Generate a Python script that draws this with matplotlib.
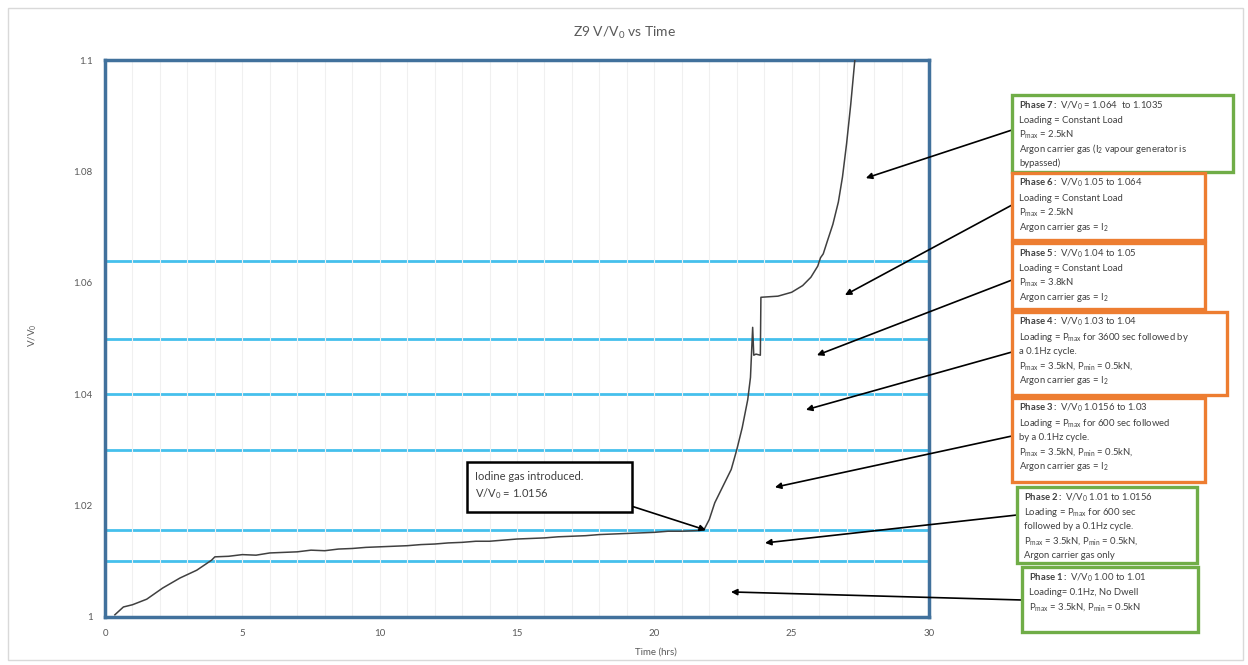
import matplotlib.pyplot as plt
from matplotlib.patches import Rectangle

plt.rcParams['font.family'] = ['Lato', 'DejaVu Sans']
plt.rcParams['mathtext.fontset'] = 'custom'
plt.rcParams['mathtext.rm'] = 'Lato'
plt.rcParams['mathtext.it'] = 'Lato:italic'
plt.rcParams['mathtext.bf'] = 'Lato:bold'
plt.rcParams['mathtext.default'] = 'regular'

# V/V0 against time (hrs)
time_hrs = [0.36, 0.67, 1.0, 1.52, 2.1, 2.73, 3.34, 3.88, 4.0,
            4.5, 5.0, 5.5, 6.0, 6.5, 7.0, 7.5, 8.0, 8.5, 9.0, 9.5, 10.0,
            10.5, 11.0, 11.5, 12.0, 12.5, 13.0, 13.5, 14.0, 14.5, 15.0,
            15.5, 16.0, 16.5, 17.0, 17.5, 18.0, 18.5, 19.0, 19.5, 20.0,
            20.5, 21.0, 21.5, 21.8,
            22.0, 22.2, 22.5, 22.8, 23.0, 23.2, 23.4, 23.5, 23.58, 23.62,
            23.7, 23.86, 23.88, 24.5, 25.0, 25.4, 25.7, 25.95, 26.05, 26.15,
            26.3, 26.5, 26.7, 26.85, 27.0, 27.15, 27.3, 27.36]
vv0 = [1.0004, 1.0018, 1.0022, 1.0032, 1.0052, 1.0070, 1.0084, 1.0102, 1.0108,
       1.0109, 1.0112, 1.0111, 1.0115, 1.0116, 1.0117, 1.0120, 1.0119, 1.0122,
       1.0123, 1.0125, 1.0126, 1.0127, 1.0128, 1.0130, 1.0131, 1.0133, 1.0134,
       1.0136, 1.0136, 1.0138, 1.0140, 1.0141, 1.0142, 1.0144, 1.0145, 1.0146,
       1.0148, 1.0149, 1.0150, 1.0151, 1.0152, 1.0154, 1.0154, 1.0155, 1.0156,
       1.0175, 1.0205, 1.0235, 1.0265, 1.0300, 1.0340, 1.0390, 1.0430, 1.0520,
       1.0470, 1.0472, 1.0470, 1.0574, 1.0576, 1.0583, 1.0595, 1.0610, 1.0630,
       1.0645, 1.0652, 1.0675, 1.0705, 1.0745, 1.0790, 1.0850, 1.0920, 1.1000,
       1.1030]

phase_limits = [1.01, 1.0156, 1.03, 1.04, 1.05, 1.064]

phase_notes = [
    [r"$\mathbf{Phase\ 7{:}}$ V/V$_0$ = 1.064  to 1.1035",
     "Loading = Constant Load",
     r"P$_{max}$ = 2.5kN",
     r"Argon carrier gas (I$_2$ vapour generator is",
     "bypassed)"],
    [r"$\mathbf{Phase\ 6{:}}$ V/V$_0$ 1.05 to 1.064",
     "Loading = Constant Load",
     r"P$_{max}$ = 2.5kN",
     r"Argon carrier gas = I$_2$"],
    [r"$\mathbf{Phase\ 5{:}}$ V/V$_0$ 1.04 to 1.05",
     "Loading = Constant Load",
     r"P$_{max}$ = 3.8kN",
     r"Argon carrier gas = I$_2$"],
    [r"$\mathbf{Phase\ 4{:}}$ V/V$_0$ 1.03 to 1.04",
     r"Loading = P$_{max}$ for 3600 sec followed by",
     "a 0.1Hz cycle.",
     r"P$_{max}$ = 3.5kN, P$_{min}$ = 0.5kN,",
     r"Argon carrier gas = I$_2$"],
    [r"$\mathbf{Phase\ 3{:}}$ V/V$_0$ 1.0156 to 1.03",
     r"Loading = P$_{max}$ for 600 sec followed",
     "by a 0.1Hz cycle.",
     r"P$_{max}$ = 3.5kN, P$_{min}$ = 0.5kN,",
     r"Argon carrier gas = I$_2$"],
    [r"$\mathbf{Phase\ 2{:}}$ V/V$_0$ 1.01 to 1.0156",
     r"Loading = P$_{max}$ for 600 sec",
     "followed by a 0.1Hz cycle.",
     r"P$_{max}$ = 3.5kN, P$_{min}$ = 0.5kN,",
     "Argon carrier gas only"],
    [r"$\mathbf{Phase\ 1{:}}$ V/V$_0$ 1.00 to 1.01",
     "Loading= 0.1Hz, No Dwell",
     r"P$_{max}$ = 3.5kN, P$_{min}$ = 0.5kN"],
]
# box corners in pixels from the top-left: x0, y0, x1, y1
note_boxes = [(1012, 95, 1233, 172), (1012, 173, 1205, 240),
              (1012, 243, 1205, 309), (1012, 312, 1227, 395),
              (1012, 398, 1205, 482), (1017, 487, 1197, 563),
              (1022, 567, 1198, 632)]
note_colors = ['#70AD47', '#ED7D31', '#ED7D31', '#ED7D31', '#ED7D31',
               '#70AD47', '#70AD47']
# arrow tail (pixels) and arrow tip (data)
arrow_tails = [(1012, 130), (1012, 205), (1012, 280), (1012, 352),
               (1012, 436), (1017, 515), (1022, 600)]
arrow_tips = [(27.7, 1.0788), (26.94, 1.0578), (25.92, 1.047),
              (25.52, 1.0372), (24.39, 1.0233), (24.03, 1.0133),
              (22.79, 1.0045)]

W, H = 1248, 665
fig = plt.figure(figsize=(W / 100, H / 100), dpi=100)
ax = fig.add_axes([105 / W, 48 / H, 824 / W, 557 / H])

def fx(px):
    return px / W

def fy(py):
    return 1 - py / H

# outer chart frame
fig.patches.append(Rectangle((fx(8), fy(660)), fx(1235), 652 / H,
                             transform=fig.transFigure, fill=False,
                             edgecolor='#D9D9D9', linewidth=1))

for lim in phase_limits:
    ax.axhline(lim, color='#45C0EC', linewidth=2, zorder=1)

ax.plot(time_hrs, vv0, color='#404040', linewidth=1.1, zorder=3)

ax.set_xlim(0, 30)
ax.set_ylim(1, 1.1)
ax.set_xticks(range(0, 31, 5))
ax.set_xticks(range(0, 31), minor=True)
ax.set_yticks([1, 1.02, 1.04, 1.06, 1.08, 1.1])
ax.set_yticklabels(['1', '1.02', '1.04', '1.06', '1.08', '1.1'])
ax.grid(True, axis='x', which='both', color='#F0F0F0', linewidth=0.8, zorder=0)
ax.tick_params(which='both', length=0, labelsize=7, colors='#595959', pad=9)
for sp in ax.spines.values():
    sp.set_color('#41719C')
    sp.set_linewidth(2.5)

fig.text(fx(625), fy(33), r'Z9 V/V$_0$ vs Time', ha='center', va='center',
         fontsize=10, color='#595959')
fig.text(fx(656), fy(652), 'Time (hrs)', ha='center', va='center',
         fontsize=7, color='#595959')
fig.text(fx(33), fy(335), r'V/V$_0$', ha='center', va='center',
         fontsize=7, color='#595959', rotation=90)

for lines, (x0, y0, x1, y1), col in zip(phase_notes, note_boxes, note_colors):
    fig.patches.append(Rectangle((fx(x0), fy(y1)), fx(x1 - x0), (y1 - y0) / H,
                                 transform=fig.transFigure, facecolor='white',
                                 edgecolor=col, linewidth=2.4, zorder=5))
    for i, line in enumerate(lines):
        fig.text(fx(x0 + 7), fy(y0 + 13 + i * 14.6), line, ha='left',
                 va='baseline', fontsize=6.8, color='#404040', zorder=6)

for (tx, ty), tip in zip(arrow_tails, arrow_tips):
    ax.annotate('', xy=tip, xycoords='data',
                xytext=(fx(tx), fy(ty)), textcoords='figure fraction',
                arrowprops=dict(arrowstyle='-|>', color='black', lw=1.2,
                                mutation_scale=9, shrinkA=0, shrinkB=0),
                annotation_clip=False, zorder=4)

# iodine note
fig.patches.append(Rectangle((fx(467), fy(512)), fx(165), 50 / H,
                             transform=fig.transFigure, facecolor='white',
                             edgecolor='black', linewidth=1.8, zorder=5))
for i, line in enumerate(['Iodine gas introduced.', r'V/V$_0$ = 1.0156']):
    fig.text(fx(475), fy(480 + i * 17), line, ha='left', va='baseline',
             fontsize=8, color='#404040', zorder=6)
ax.annotate('', xy=(21.88, 1.0156), xycoords='data',
            xytext=(fx(628), fy(505)), textcoords='figure fraction',
            arrowprops=dict(arrowstyle='-|>', color='black', lw=1.2,
                            mutation_scale=9, shrinkA=0, shrinkB=0),
            zorder=4)

fig.savefig('out.png', dpi=100)
